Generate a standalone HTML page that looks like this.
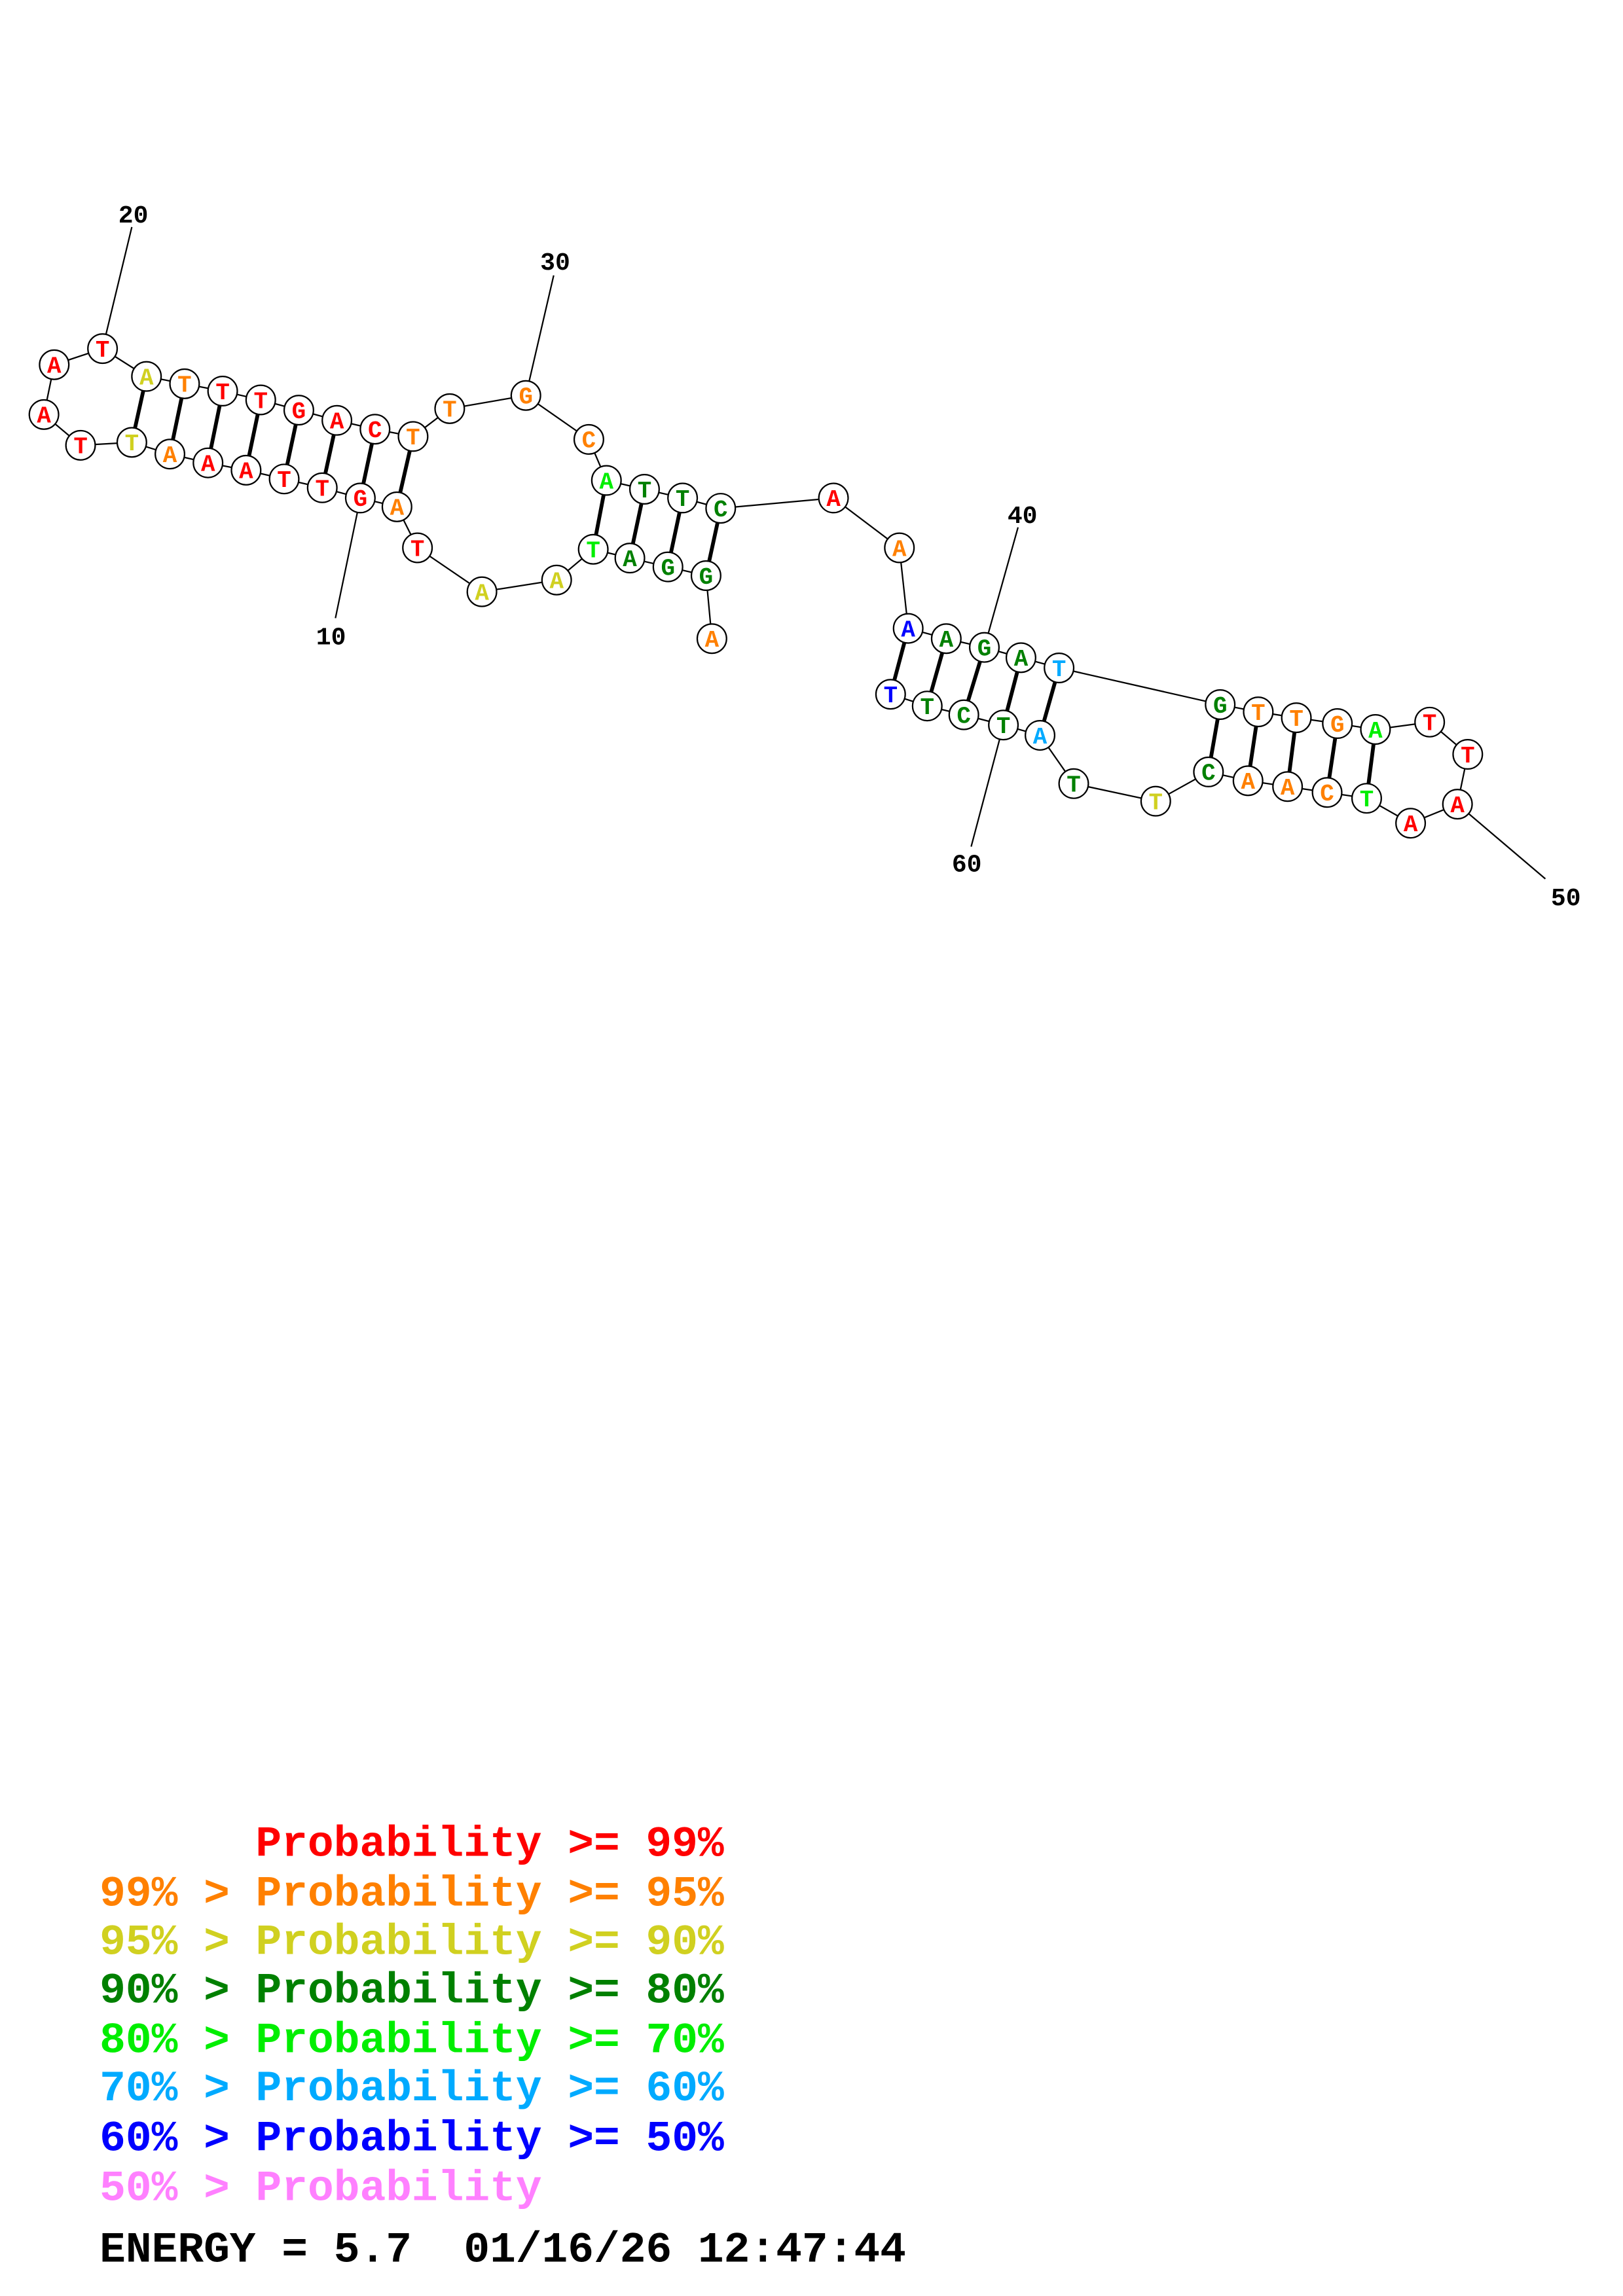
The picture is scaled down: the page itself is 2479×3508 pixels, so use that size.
<!DOCTYPE html>
<html><head><meta charset="utf-8"><style>
html,body{margin:0;padding:0;background:#fff;}
svg{display:block;}
.n circle{fill:#fff;stroke:#000;stroke-width:1;}
.n text{font-family:"Liberation Mono",monospace;font-weight:bold;font-size:16px;text-anchor:middle;}
.r{fill:#ff0000}.o{fill:#ff8000}.y{fill:#d0d020}.g{fill:#008000}.l{fill:#00ee00}.c{fill:#00aaff}.b{fill:#0000ff}.p{fill:#ff80ff}
.lg{font-family:"Liberation Mono",monospace;font-weight:bold;font-size:29.6px;}
.tk{font-family:"Liberation Mono",monospace;font-weight:bold;font-size:17px;text-anchor:middle;fill:#000}
</style></head><body>
<svg width="2479" height="3508" viewBox="0 0 1108 1567.5" preserveAspectRatio="none" xmlns="http://www.w3.org/2000/svg">
<rect width="1108" height="1567.5" fill="#fff"/>
<g stroke="#000" stroke-width="1">
<line x1="246" y1="340" x2="229" y2="422"/>
<line x1="70" y1="238" x2="90" y2="155"/>
<line x1="359" y1="270" x2="378" y2="188"/>
<line x1="672" y1="442" x2="695" y2="360"/>
<line x1="995" y1="549" x2="1055" y2="600"/>
<line x1="685" y1="495" x2="663" y2="578"/>
</g>
<text class="tk" x="226" y="440">10</text>
<text class="tk" x="91" y="152">20</text>
<text class="tk" x="379" y="184">30</text>
<text class="tk" x="698" y="357">40</text>
<text class="tk" x="1069" y="618">50</text>
<text class="tk" x="660" y="595">60</text>
<polyline fill="none" stroke="#000" stroke-width="1" points="486,436 482,393 456,387 430,381 405,375 380,396 329,404 285,374 271,346 246,340 220,333 194,327 168,321 142,316 116,310 90,302 55,304 30,283 37,249 70,238 100,257 126,262 152,267 178,273 204,280 230,287 256,293 282,298 307,279 359,270 402,300 414,328 440,334 466,340 492,347 569,340 614,374 620,429 646,436 672,442 697,449 723,456 833,481 859,486 885,490 913,494 939,498 976,493 1002,515 995,549 963,562 933,545 906,541 879,537 852,533 825,527 789,547 733,535 710,502 685,495 658,488 633,482 608,474"/>
<g stroke="#000" stroke-width="2.6">
<line x1="482" y1="393" x2="492" y2="347"/><line x1="456" y1="387" x2="466" y2="340"/><line x1="430" y1="381" x2="440" y2="334"/><line x1="405" y1="375" x2="414" y2="328"/>
<line x1="271" y1="346" x2="282" y2="298"/><line x1="246" y1="340" x2="256" y2="293"/><line x1="220" y1="333" x2="230" y2="287"/><line x1="194" y1="327" x2="204" y2="280"/><line x1="168" y1="321" x2="178" y2="273"/><line x1="142" y1="316" x2="152" y2="267"/><line x1="116" y1="310" x2="126" y2="262"/><line x1="90" y1="302" x2="100" y2="257"/>
<line x1="620" y1="429" x2="608" y2="474"/><line x1="646" y1="436" x2="633" y2="482"/><line x1="672" y1="442" x2="658" y2="488"/><line x1="697" y1="449" x2="685" y2="495"/><line x1="723" y1="456" x2="710" y2="502"/>
<line x1="833" y1="481" x2="825" y2="527"/><line x1="859" y1="486" x2="852" y2="533"/><line x1="885" y1="490" x2="879" y2="537"/><line x1="913" y1="494" x2="906" y2="541"/><line x1="939" y1="498" x2="933" y2="545"/>
</g>
<g class="n">
<circle cx="486" cy="436" r="10"/><text x="486" y="441.5" class="o">A</text>
<circle cx="482" cy="393" r="10"/><text x="482" y="398.5" class="g">G</text>
<circle cx="456" cy="387" r="10"/><text x="456" y="392.5" class="g">G</text>
<circle cx="430" cy="381" r="10"/><text x="430" y="386.5" class="g">A</text>
<circle cx="405" cy="375" r="10"/><text x="405" y="380.5" class="l">T</text>
<circle cx="380" cy="396" r="10"/><text x="380" y="401.5" class="y">A</text>
<circle cx="329" cy="404" r="10"/><text x="329" y="409.5" class="y">A</text>
<circle cx="285" cy="374" r="10"/><text x="285" y="379.5" class="r">T</text>
<circle cx="271" cy="346" r="10"/><text x="271" y="351.5" class="o">A</text>
<circle cx="246" cy="340" r="10"/><text x="246" y="345.5" class="r">G</text>
<circle cx="220" cy="333" r="10"/><text x="220" y="338.5" class="r">T</text>
<circle cx="194" cy="327" r="10"/><text x="194" y="332.5" class="r">T</text>
<circle cx="168" cy="321" r="10"/><text x="168" y="326.5" class="r">A</text>
<circle cx="142" cy="316" r="10"/><text x="142" y="321.5" class="r">A</text>
<circle cx="116" cy="310" r="10"/><text x="116" y="315.5" class="o">A</text>
<circle cx="90" cy="302" r="10"/><text x="90" y="307.5" class="y">T</text>
<circle cx="55" cy="304" r="10"/><text x="55" y="309.5" class="r">T</text>
<circle cx="30" cy="283" r="10"/><text x="30" y="288.5" class="r">A</text>
<circle cx="37" cy="249" r="10"/><text x="37" y="254.5" class="r">A</text>
<circle cx="70" cy="238" r="10"/><text x="70" y="243.5" class="r">T</text>
<circle cx="100" cy="257" r="10"/><text x="100" y="262.5" class="y">A</text>
<circle cx="126" cy="262" r="10"/><text x="126" y="267.5" class="o">T</text>
<circle cx="152" cy="267" r="10"/><text x="152" y="272.5" class="r">T</text>
<circle cx="178" cy="273" r="10"/><text x="178" y="278.5" class="r">T</text>
<circle cx="204" cy="280" r="10"/><text x="204" y="285.5" class="r">G</text>
<circle cx="230" cy="287" r="10"/><text x="230" y="292.5" class="r">A</text>
<circle cx="256" cy="293" r="10"/><text x="256" y="298.5" class="r">C</text>
<circle cx="282" cy="298" r="10"/><text x="282" y="303.5" class="o">T</text>
<circle cx="307" cy="279" r="10"/><text x="307" y="284.5" class="o">T</text>
<circle cx="359" cy="270" r="10"/><text x="359" y="275.5" class="o">G</text>
<circle cx="402" cy="300" r="10"/><text x="402" y="305.5" class="o">C</text>
<circle cx="414" cy="328" r="10"/><text x="414" y="333.5" class="l">A</text>
<circle cx="440" cy="334" r="10"/><text x="440" y="339.5" class="g">T</text>
<circle cx="466" cy="340" r="10"/><text x="466" y="345.5" class="g">T</text>
<circle cx="492" cy="347" r="10"/><text x="492" y="352.5" class="g">C</text>
<circle cx="569" cy="340" r="10"/><text x="569" y="345.5" class="r">A</text>
<circle cx="614" cy="374" r="10"/><text x="614" y="379.5" class="o">A</text>
<circle cx="620" cy="429" r="10"/><text x="620" y="434.5" class="b">A</text>
<circle cx="646" cy="436" r="10"/><text x="646" y="441.5" class="g">A</text>
<circle cx="672" cy="442" r="10"/><text x="672" y="447.5" class="g">G</text>
<circle cx="697" cy="449" r="10"/><text x="697" y="454.5" class="g">A</text>
<circle cx="723" cy="456" r="10"/><text x="723" y="461.5" class="c">T</text>
<circle cx="833" cy="481" r="10"/><text x="833" y="486.5" class="g">G</text>
<circle cx="859" cy="486" r="10"/><text x="859" y="491.5" class="o">T</text>
<circle cx="885" cy="490" r="10"/><text x="885" y="495.5" class="o">T</text>
<circle cx="913" cy="494" r="10"/><text x="913" y="499.5" class="o">G</text>
<circle cx="939" cy="498" r="10"/><text x="939" y="503.5" class="l">A</text>
<circle cx="976" cy="493" r="10"/><text x="976" y="498.5" class="r">T</text>
<circle cx="1002" cy="515" r="10"/><text x="1002" y="520.5" class="r">T</text>
<circle cx="995" cy="549" r="10"/><text x="995" y="554.5" class="r">A</text>
<circle cx="963" cy="562" r="10"/><text x="963" y="567.5" class="r">A</text>
<circle cx="933" cy="545" r="10"/><text x="933" y="550.5" class="l">T</text>
<circle cx="906" cy="541" r="10"/><text x="906" y="546.5" class="o">C</text>
<circle cx="879" cy="537" r="10"/><text x="879" y="542.5" class="o">A</text>
<circle cx="852" cy="533" r="10"/><text x="852" y="538.5" class="o">A</text>
<circle cx="825" cy="527" r="10"/><text x="825" y="532.5" class="g">C</text>
<circle cx="789" cy="547" r="10"/><text x="789" y="552.5" class="y">T</text>
<circle cx="733" cy="535" r="10"/><text x="733" y="540.5" class="g">T</text>
<circle cx="710" cy="502" r="10"/><text x="710" y="507.5" class="c">A</text>
<circle cx="685" cy="495" r="10"/><text x="685" y="500.5" class="g">T</text>
<circle cx="658" cy="488" r="10"/><text x="658" y="493.5" class="g">C</text>
<circle cx="633" cy="482" r="10"/><text x="633" y="487.5" class="g">T</text>
<circle cx="608" cy="474" r="10"/><text x="608" y="479.5" class="b">T</text>
</g>
<g class="lg">
<text x="174.5" y="1267" class="r">Probability &gt;= 99%</text>
<text x="68" y="1301" class="o">99% &gt; Probability &gt;= 95%</text>
<text x="68" y="1334" class="y">95% &gt; Probability &gt;= 90%</text>
<text x="68" y="1367" class="g">90% &gt; Probability &gt;= 80%</text>
<text x="68" y="1401" class="l">80% &gt; Probability &gt;= 70%</text>
<text x="68" y="1434" class="c">70% &gt; Probability &gt;= 60%</text>
<text x="68" y="1468" class="b">60% &gt; Probability &gt;= 50%</text>
<text x="68" y="1502" class="p">50% &gt; Probability</text>
<text x="68" y="1544" fill="#000">ENERGY = 5.7</text>
<text x="316.6" y="1544" fill="#000">01/16/26 12:47:44</text>
</g>
</svg>
</body></html>
